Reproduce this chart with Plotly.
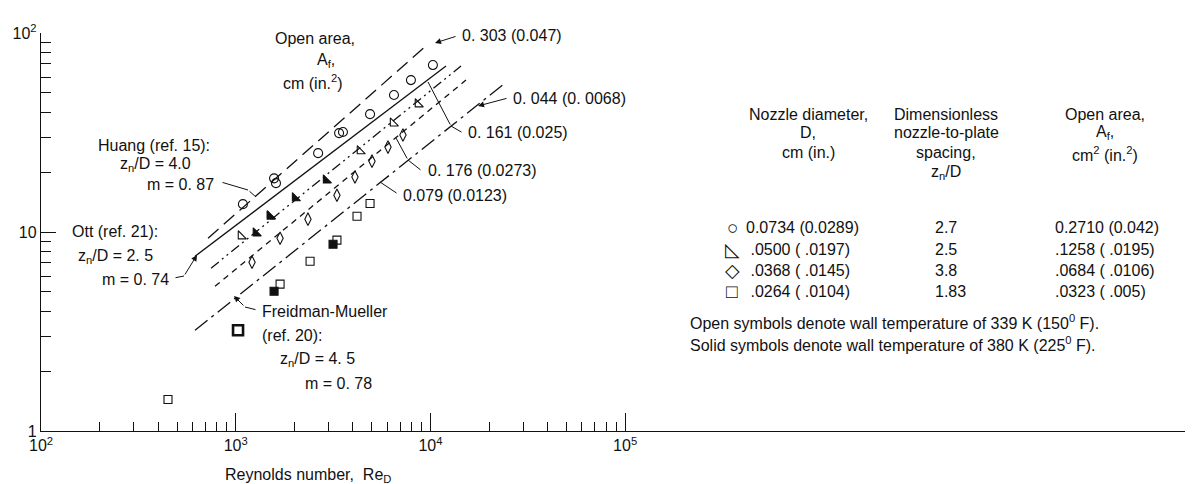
import plotly.graph_objects as go

# ---------------- data ----------------
circ_re = [1089, 1574, 1610, 2650, 3396, 3556, 4898, 6501, 7943, 10300]
circ_nu = [13.8, 18.6, 17.6, 24.9, 31.4, 31.8, 39.1, 48.8, 58.0, 69.0]

tri_open_re = [1064, 1500, 4346, 6427, 8630]
tri_open_nu = [9.53, 12.0, 25.5, 35.2, 43.9]
tri_solid_re = [1270, 1500, 2018, 2911]
tri_solid_nu = [9.86, 12.0, 14.8, 18.2]

dia_re = [1213, 1690, 2350, 3311, 4098, 5012, 6056, 7228]
dia_nu = [7.05, 9.31, 11.6, 15.3, 18.9, 22.7, 26.7, 30.7]

sq_open_re = [449, 1690, 2410, 3311, 4198, 4898]
sq_open_nu = [1.44, 5.47, 7.13, 9.1, 12.0, 13.9]
sq_bold_re = [1028]
sq_bold_nu = [3.21]
sq_solid_re = [1574, 3162]
sq_solid_nu = [5.04, 8.68]

huang_re = [721, 9720]
huang_nu = [9.31, 87.9]
ott_re = [618, 12030]
ott_nu = [7.55, 68.2]
l3_re = [747, 14360]
l3_nu = [6.58, 68.2]
l4_re = [783, 15230]
l4_nu = [5.34, 58.0]
fm_re = [618, 24170]
fm_nu = [3.21, 56.0]

x_major = [100, 1000, 10000, 100000]
x_major_text = ["10<sup>2</sup>", "10<sup>3</sup>", "10<sup>4</sup>", "10<sup>5</sup>"]
y_major = [1, 10, 100]
y_major_text = ["1", "10", "10<sup>2</sup>"]

table_symbols = ["\u25cb", "\u25fa", "\u25c7", "\u25a1"]
table_diam = ["0.0734 (0.0289)", " .0500 ( .0197)", " .0368 ( .0145)", " .0264 ( .0104)"]
table_spacing = ["2.7", "2.5", "3.8", "1.83"]
table_area = ["0.2710 (0.042)", ".1258 ( .0195)", ".0684 ( .0106)", ".0323 ( .005)"]

# ---------------- figure ----------------
W, H = 1193, 484
ML, MR, MT, MB = 33, 10, 25, 61
FONT = "Liberation Sans"
FS = 16
BLACK = "#111"

fig = go.Figure()

def line(re, nu, dash, w=1.3):
    fig.add_trace(go.Scatter(x=re, y=nu, mode="lines",
                             line=dict(color=BLACK, width=w, dash=dash),
                             hoverinfo="skip", showlegend=False))

line(huang_re, huang_nu, "14px,7px")
line(ott_re, ott_nu, "solid")
line(l3_re, l3_nu, "10px,4px,2px,4px,2px,4px")
line(l4_re, l4_nu, "6px,5px")
line(fm_re, fm_nu, "16px,5px,3px,5px")

def pts(re, nu, symbol, size=9, lw=1.1, color=BLACK):
    fig.add_trace(go.Scatter(x=re, y=nu, mode="markers",
                             marker=dict(symbol=symbol, size=size, color=color,
                                         line=dict(color=BLACK, width=lw)),
                             hoverinfo="skip", showlegend=False))

pts(circ_re, circ_nu, "circle-open", 9)
pts(tri_open_re, tri_open_nu, "triangle-sw-open", 9)
pts(tri_solid_re, tri_solid_nu, "triangle-sw", 9)
pts(dia_re, dia_nu, "diamond-tall-open", 9)
pts(sq_open_re, sq_open_nu, "square-open", 8)
pts(sq_bold_re, sq_bold_nu, "square-open", 10, 2.6)
pts(sq_solid_re, sq_solid_nu, "square", 8)

PW = W - ML - MR
PH = H - MT - MB

def px(x):
    return (x - ML) / PW

def py(y):
    return (H - MB - y) / PH

anns = []

def txt(t, x, y, xanchor="left", size=FS):
    anns.append(dict(text=t, x=px(x), y=py(y), xref="paper", yref="paper",
                     xanchor=xanchor, yanchor="middle", showarrow=False,
                     font=dict(family=FONT, size=size, color=BLACK)))

def lead(x0, y0, x1, y1, head=0):
    anns.append(dict(text="", x=px(x1), y=py(y1), xref="paper", yref="paper",
                     ax=x0 - x1, ay=y0 - y1, axref="pixel", ayref="pixel",
                     showarrow=True, arrowhead=head, arrowsize=1.2,
                     arrowwidth=1, arrowcolor=BLACK, standoff=0, startstandoff=0))

# plot annotations
txt("Open area,", 307, 30, "center")
txt("A<sub>f</sub>,", 318, 52, "center")
txt("cm (in.<sup>2</sup>)", 305, 74, "center")

txt("0. 303 (0.047)", 452, 28)
lead(449, 28, 427, 35, 2)
txt("0. 044 (0. 0068)", 503, 90)
lead(500, 90, 470, 98, 2)
txt("0. 161 (0.025)", 458, 125)
lead(455, 125, 443, 118)
lead(443, 118, 420, 74)
txt("0. 176 (0.0273)", 418, 163)
lead(414, 163, 400, 152)
lead(400, 152, 388, 130)
txt("0.079 (0.0123)", 393, 187)
lead(390, 186, 372, 174)

txt("Huang (ref. 15):", 88, 137)
txt("z<sub>n</sub>/D = 4.0", 110, 156)
txt("m = 0. 87", 137, 176)
lead(213, 174, 240, 182)
lead(240, 182, 248, 189)

txt("Ott (ref. 21):", 62, 223)
txt("z<sub>n</sub>/D = 2. 5", 68, 248)
txt("m = 0. 74", 92, 271)
lead(166, 270, 176, 268)
lead(176, 268, 189, 247, 2)

txt("Freidman-Mueller", 252, 303)
txt("(ref. 20):", 252, 327)
txt("z<sub>n</sub>/D = 4. 5", 270, 351)
txt("m = 0. 78", 295, 375)
lead(249, 302, 237, 299)
lead(237, 299, 226, 288, 2)

txt("Reynolds number,  Re<sub>D</sub>", 300, 467, "center")

# table
txt("Nozzle diameter,", 800, 106, "center")
txt("D,", 800, 125, "center")
txt("cm (in.)", 800, 144, "center")
txt("Dimensionless", 938, 106, "center")
txt("nozzle-to-plate", 938, 125, "center")
txt("spacing,", 938, 144, "center")
txt("z<sub>n</sub>/D", 938, 164, "center")
txt("Open area,", 1097, 106, "center")
txt("A<sub>f</sub>,", 1097, 125, "center")
txt("cm<sup>2</sup> (in.<sup>2</sup>)", 1097, 146, "center")

row_y = [220, 241, 262, 283]
for sym, d, s, a, yy in zip(table_symbols, table_diam, table_spacing, table_area, row_y):
    txt(sym, 724, yy, "center", 19)
    txt(d, 736, yy)
    txt(s, 925, yy)
    txt(a, 1045, yy)

txt("Open symbols denote wall temperature of 339 K (150<sup>0</sup> F).", 680, 314)
txt("Solid symbols denote wall temperature of 380 K (225<sup>0</sup> F).", 680, 336)

x_minor = [m * d for d in (100, 1000, 10000) for m in range(2, 10)]
y_minor = [m * d for d in (1, 10) for m in range(2, 10)]

fig.update_layout(
    width=W, height=H,
    margin=dict(l=ML, r=MR, t=MT, b=MB, autoexpand=False),
    paper_bgcolor="white", plot_bgcolor="white",
    showlegend=False,
    annotations=anns,
    font=dict(family=FONT, size=FS, color=BLACK),
    xaxis=dict(type="log", range=[2, 2 + PW / 194.7], showgrid=False, zeroline=False,
               automargin=False,
               showline=True, linecolor=BLACK, linewidth=1.4,
               tickmode="array", tickvals=x_major, ticktext=x_major_text,
               ticks="inside", ticklen=18, tickwidth=1, tickcolor=BLACK,
               tickfont=dict(family=FONT, size=FS, color=BLACK),
               minor=dict(tickmode="array", tickvals=x_minor, ticks="inside",
                          ticklen=9, tickwidth=1, tickcolor=BLACK, showgrid=False)),
    yaxis=dict(type="log", range=[0, 2], showgrid=False, zeroline=False,
               automargin=False,
               showline=True, linecolor=BLACK, linewidth=1.4,
               tickmode="array", tickvals=y_major, ticktext=y_major_text,
               ticks="inside", ticklen=15, tickwidth=1, tickcolor=BLACK,
               tickfont=dict(family=FONT, size=FS, color=BLACK),
               minor=dict(tickmode="array", tickvals=y_minor, ticks="inside",
                          ticklen=10, tickwidth=1, tickcolor=BLACK, showgrid=False)),
)

fig.write_html("out.html")
